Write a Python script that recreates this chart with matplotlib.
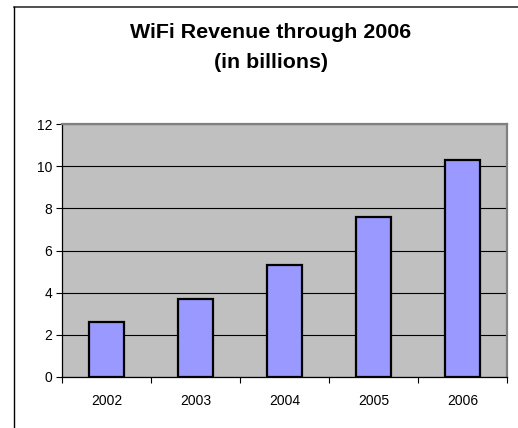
import matplotlib
matplotlib.use("Agg")
import matplotlib.pyplot as plt
from matplotlib.lines import Line2D

years = ["2002", "2003", "2004", "2005", "2006"]
revenue = [2.6, 3.7, 5.3, 7.6, 10.3]
yticks = [0, 2, 4, 6, 8, 10, 12]
title_line1 = "WiFi Revenue through 2006"
title_line2 = "(in billions)"

plt.rcParams['font.family'] = ['Liberation Sans', 'DejaVu Sans']

W, H = 518, 428
fig = plt.figure(figsize=(W / 100, H / 100), dpi=100)
fig.patch.set_facecolor("white")

ax = fig.add_axes([62 / W, (H - 377) / H, (507 - 62) / W, (377 - 124) / H])
ax.set_facecolor("#C0C0C0")

x = list(range(len(years)))
ax.bar(x, revenue, width=0.4, color="#9999FF", edgecolor="black", linewidth=1.6, zorder=3)

ax.set_xlim(-0.5, len(years) - 0.5)
ax.set_ylim(0, 12)
ax.set_yticks(yticks)
ax.set_yticklabels([str(v) for v in yticks], fontsize=10)
ax.yaxis.grid(True, color="black", linewidth=0.8, zorder=1)
ax.set_axisbelow(True)

ax.set_xticks(x)
ax.set_xticklabels(years, fontsize=10)
ax.tick_params(axis="x", which="major", length=0, pad=12)
ax.set_xticks([i - 0.5 for i in range(len(years) + 1)], minor=True)
ax.tick_params(axis="x", which="minor", length=4, width=0.8, color="black", direction="out")
ax.tick_params(axis="y", length=4, width=0.8, color="black", direction="out", pad=3)

for side in ["left", "bottom"]:
    ax.spines[side].set_color("black")
    ax.spines[side].set_linewidth(0.9)
for side in ["top", "right"]:
    ax.spines[side].set_color("#808080")
    ax.spines[side].set_linewidth(1.6)

fig.text(271 / W, 1 - 33 / H, title_line1, ha="center", va="center", fontsize=15.4, fontweight="bold")
fig.text(271 / W, 1 - 62 / H, title_line2, ha="center", va="center", fontsize=15.4, fontweight="bold")

# outer chart border (top and left)
fig.add_artist(Line2D([13.5 / W, 1], [1 - 6.5 / H, 1 - 6.5 / H], transform=fig.transFigure, color="#333333", linewidth=1.2))
fig.add_artist(Line2D([13.5 / W, 13.5 / W], [0, 1 - 6.5 / H], transform=fig.transFigure, color="black", linewidth=1.0))

fig.savefig("out.png", dpi=100)
